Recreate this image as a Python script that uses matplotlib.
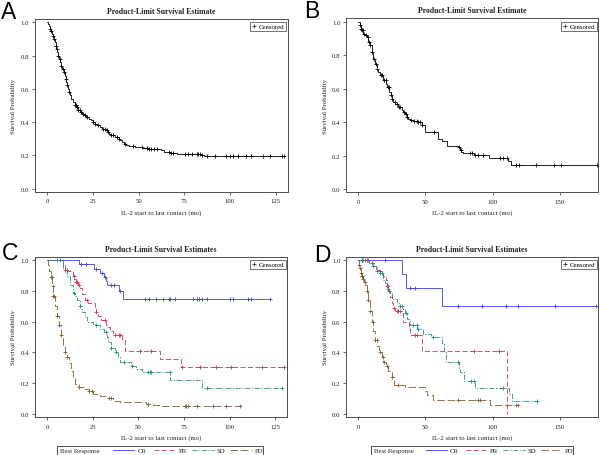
import numpy as np
import matplotlib
matplotlib.use("Agg")
import matplotlib.pyplot as plt
from matplotlib.lines import Line2D
from matplotlib.patches import Rectangle

plt.rcParams['font.family'] = ['Liberation Serif', 'DejaVu Serif']

# ---------------- data ----------------
# Panel A: all patients, cohort 1
a_times = [0.5, 1, 1.5, 2, 2.5, 3, 3.5, 4, 4.5, 5, 5.5, 6, 6.5, 7, 7.5, 8, 9, 9.5, 10, 10.5,
           11, 11.5, 12, 12.5, 13, 14, 15, 16, 17, 18, 19, 20, 21, 23, 24, 25, 26, 27, 29, 30,
           32, 33, 34, 35, 37, 39, 40, 41, 42, 43, 45, 48, 52, 55, 58, 62, 64, 67, 71, 76, 84, 86]
a_surv = [0.99, 0.98, 0.96, 0.95, 0.93, 0.92, 0.90, 0.88, 0.86, 0.84, 0.82, 0.80, 0.78, 0.76, 0.74,
          0.72, 0.70, 0.68, 0.66, 0.64, 0.62, 0.60, 0.58, 0.56, 0.54, 0.52, 0.50, 0.49, 0.47, 0.46,
          0.45, 0.44, 0.43, 0.42, 0.41, 0.40, 0.39, 0.38, 0.37, 0.36, 0.35, 0.34, 0.33, 0.32, 0.31,
          0.30, 0.29, 0.28, 0.27, 0.26, 0.255, 0.25, 0.245, 0.24, 0.235, 0.23, 0.22, 0.215, 0.21,
          0.205, 0.20, 0.193]
a_cens = [1.5, 2.2, 3, 3.8, 4.6, 5.3, 6, 6.8, 7.5, 8.5, 9.2, 10, 11, 12, 15, 15.6, 16.3, 17, 17.8,
          18.5, 19.5, 20.5, 22, 25, 26, 28, 30.5, 31.5, 32.5, 33.5, 35, 36, 38, 39.4, 42.5, 47,
          51.6, 54.4, 55.8, 57, 58.4, 60, 66.8, 67.5, 69, 75.4, 77.2, 79, 81.8, 82.7, 83.6, 84.5,
          87.6, 91.8, 97.8, 100, 101.5, 104.6, 109, 111.3, 118, 122, 128.3]
a_end = 129.6

# Panel B: all patients, cohort 2
b_times = [1, 2, 2.5, 3.5, 5, 6.2, 7.5, 8.7, 9.9, 11.2, 12.5, 13.6, 15, 16.1, 18.6, 20.5, 21.6, 23,
           24, 24.8, 26, 27.3, 29.7, 32.2, 33.5, 34.7, 35.9, 37, 38.4, 40.9, 44.6, 47.1, 49.6,
           59.5, 62.5, 65.7, 74, 75.5, 76.5, 78, 86, 97.4, 111.5, 114]
b_surv = [0.98, 0.96, 0.95, 0.93, 0.92, 0.91, 0.88, 0.86, 0.82, 0.78, 0.75, 0.72, 0.70, 0.68, 0.65,
          0.63, 0.61, 0.58, 0.56, 0.54, 0.52, 0.51, 0.49, 0.47, 0.46, 0.45, 0.43, 0.42, 0.414,
          0.408, 0.40, 0.38, 0.34, 0.30, 0.285, 0.257, 0.25, 0.235, 0.22, 0.213, 0.205, 0.185,
          0.17, 0.145]
b_cens = [1.2, 2, 2.5, 3.2, 4.2, 5.5, 7, 8, 8.7, 10.2, 11.7, 13.1, 14.1, 16.6, 17.6, 19.1, 20.3,
          21.8, 22.8, 24.1, 25.3, 27, 28.5, 30.5, 31.2, 34, 35.5, 36.4, 38.9, 41.4, 43.4, 44.6,
          45.9, 47.4, 56.3, 75.1, 76.4, 83.5, 84.5, 87.2, 89.5, 93, 105.4, 107.8, 110.8, 117.7,
          119.5, 132.6, 145.8, 151.2]
b_end = 177.5

# Panel C: by best response, cohort 1
c_cr_times = [17.5, 25.7, 28.8, 31, 32.1, 32.5, 39.4, 41.6]
c_cr_surv = [0.975, 0.945, 0.915, 0.89, 0.865, 0.838, 0.80, 0.75]
c_cr_cens = [7, 18.5, 21, 27, 30, 31.5, 35, 36.5, 40, 53.5, 56, 59.5, 63.5, 67, 67.5, 70, 80,
             82, 83.5, 85, 87.6, 100, 102, 110, 112]
c_cr_end = 122

c_pr_times = [8.5, 9.7, 11.5, 13.9, 14.8, 15.7, 17, 17.9, 18.8, 20.6, 22.4, 26, 27, 27.9, 29.7,
              32.1, 33.2, 34.3, 35.8, 41, 42.5, 61.7, 73.5]
c_pr_surv = [0.975, 0.94, 0.93, 0.90, 0.88, 0.86, 0.84, 0.82, 0.78, 0.74, 0.72, 0.68, 0.66, 0.635,
             0.61, 0.58, 0.565, 0.54, 0.515, 0.485, 0.41, 0.355, 0.305]
c_pr_cens = [9.7, 10.6, 14.6, 15.7, 16.4, 17.2, 21.9, 27, 31.6, 37, 39.4, 40, 51, 57, 74, 83.6,
             92.3, 101, 118]
c_pr_end = 129.6

c_sd_times = [8.8, 10.6, 12.4, 13.9, 15.1, 16.4, 17.9, 19.3, 20.6, 21.9, 25.2, 26.6, 28.8, 31,
              32.5, 33.4, 34.7, 37, 38.9, 40.1, 46.2, 48.9, 52.2, 67.5, 85]
c_sd_surv = [0.95, 0.90, 0.84, 0.79, 0.77, 0.74, 0.70, 0.66, 0.63, 0.60, 0.585, 0.575, 0.55, 0.53,
             0.50, 0.47, 0.43, 0.40, 0.37, 0.34, 0.31, 0.29, 0.27, 0.22, 0.165]
c_sd_cens = [5.5, 14.6, 17.9, 27, 32.1, 35.2, 37.5, 42, 46.7, 55.3, 56.2, 57, 67.2, 87.6]
c_sd_end = 128.8

c_pd_times = [0.6, 1.1, 1.8, 2.6, 3.3, 4.2, 5.1, 6.2, 7.3, 8.4, 9.7, 10.6, 11.9, 12.8, 13.9, 15.1,
              17.5, 20.6, 23, 25.2, 28.8, 32.5, 35.8, 39.8, 54.4, 58, 62.6]
c_pd_surv = [0.97, 0.93, 0.89, 0.83, 0.77, 0.70, 0.64, 0.58, 0.51, 0.45, 0.40, 0.37, 0.33, 0.28,
             0.23, 0.195, 0.175, 0.16, 0.15, 0.13, 0.115, 0.10, 0.085, 0.075, 0.065, 0.055, 0.047]
c_pd_cens = [1.8, 2.4, 2.9, 3.3, 3.8, 5.5, 6.6, 7.8, 9.7, 10.6, 17.5, 23, 24.3, 34, 34.7, 55.3,
             75.4, 76.3, 77.2, 82, 91, 97.8]
c_pd_end = 105.6

# Panel D: by best response, cohort 2
d_cr_times = [32.2, 35.4, 62]
d_cr_surv = [0.91, 0.82, 0.70]
d_cr_cens = [2.5, 19.8, 38.4, 42.1, 74.4, 92.5, 110.3, 119, 146.3]
d_cr_end = 177.2

d_pr_times = [9.9, 11.7, 13.1, 18.1, 20.6, 21.6, 22.4, 23.5, 24.8, 26, 27.3, 33, 33.5, 37.9,
              38.4, 47.1, 110.8]
d_pr_surv = [0.98, 0.96, 0.93, 0.90, 0.87, 0.83, 0.80, 0.76, 0.72, 0.69, 0.67, 0.64, 0.595, 0.56,
             0.51, 0.41, 0.0]
d_pr_cens = [5, 6.2, 7.4, 13.6, 16.1, 21.6, 22.3, 23, 26.5, 28.5, 29.7, 31, 42.1, 43.9, 86, 104.9]
d_pr_end = 110.8

d_sd_times = [8.2, 11.2, 14.1, 16.1, 18.1, 19.8, 21.6, 23, 24.8, 29, 30.5, 33, 34.7, 35.9, 38.4,
              43.9, 48.3, 54.5, 62.7, 63.7, 65.2, 75.1, 76.1, 78.6, 86.8, 112, 114.5]
d_sd_surv = [0.98, 0.96, 0.935, 0.92, 0.87, 0.85, 0.81, 0.79, 0.745, 0.72, 0.70, 0.68, 0.655,
             0.62, 0.58, 0.55, 0.52, 0.50, 0.46, 0.40, 0.335, 0.29, 0.27, 0.21, 0.17, 0.13, 0.085]
d_sd_cens = [2.5, 3.7, 9.9, 11.2, 16.1, 17.3, 22.3, 31, 32.2, 35.4, 40.9, 43.4, 44.6, 55.8, 74.4,
             84.3, 86, 107.8]
d_sd_end = 133.1

d_pd_times = [0.7, 1.2, 1.7, 2.5, 3.2, 4.2, 5.2, 6.2, 7.4, 8.7, 9.9, 11.2, 12.4, 14.1, 15.6,
              17.4, 18.6, 20.6, 22.3, 24.8, 26.5, 34.7, 49.6, 50.8, 55.8, 97.9]
d_pd_surv = [0.97, 0.95, 0.92, 0.90, 0.88, 0.86, 0.84, 0.80, 0.74, 0.67, 0.60, 0.54, 0.48, 0.44,
             0.40, 0.37, 0.34, 0.31, 0.28, 0.24, 0.19, 0.175, 0.15, 0.125, 0.09, 0.055]
d_pd_cens = [0.7, 1.2, 2, 2.5, 3, 3.7, 5, 6.2, 7.4, 8.7, 10.7, 12.4, 13.6, 16.1, 18.1, 19.1,
             21.6, 24.8, 29.7, 74.4, 89.2, 90.5, 117.3]
d_pd_end = 119.2

groups = ['CR', 'PR', 'SD', 'PD']
group_colors = ['#4040ea', '#d8304e', '#21907c', '#7d5e30']
group_dashes = [(None, None), (6, 3), (6, 2, 1.5, 2), (9, 3.5)]

x_ticks_1 = [0, 25, 50, 75, 100, 125]
x_ticks_2 = [0, 50, 100, 150]
y_ticks = [0.0, 0.2, 0.4, 0.6, 0.8, 1.0]

title_single = 'Product-Limit Survival Estimate'
title_multi = 'Product-Limit Survival Estimates'
x_label = 'IL-2 start to last contact (mo)'
y_label = 'Survival Probability'
legend_title = 'Best Response'

# ---------------- drawing ----------------
W, H = 600, 456
fig = plt.figure(figsize=(6, 4.56), dpi=100)
fig.patch.set_facecolor('white')

SPINE = '#4d4d4d'
TXT = '#222222'
FS = 4.9


def add_ax(l, r, t, b):
    return fig.add_axes([l / W, 1 - b / H, (r - l) / W, (b - t) / H])


def style(ax, xlim, ylim, xticks, title):
    ax.set_xlim(*xlim)
    ax.set_ylim(*ylim)
    ax.set_xticks(xticks)
    ax.set_yticks(y_ticks)
    ax.set_yticklabels(['%.1f' % v for v in y_ticks])
    ax.tick_params(direction='out', length=2.5, width=0.6, pad=1.5, labelsize=FS,
                   colors=SPINE, labelcolor=TXT)
    ax.tick_params(axis='x', pad=2.5)
    for s in ax.spines.values():
        s.set_color(SPINE)
        s.set_linewidth(0.7)
    ax.set_title(title, fontsize=5.6, fontweight='bold', color=TXT, pad=4)
    ax.set_xlabel(x_label, fontsize=FS, color=TXT, labelpad=4)
    ax.set_ylabel(y_label, fontsize=FS, color=TXT, labelpad=3)


def km(ax, times, surv, cens, end, color, dashes, lw=0.6):
    xs = [0] + list(times) + [end]
    ys = [1.0] + list(surv) + [surv[-1]]
    ln, = ax.step(xs, ys, where='post', color=color, lw=lw)
    if dashes[0] is not None:
        ln.set_dashes(dashes)
    t = np.asarray(times)
    s = np.asarray([1.0] + list(surv))
    ct = np.asarray(cens)
    idx = np.searchsorted(t, ct, side='right')
    ax.plot(ct, s[idx], ls='none', marker='+', ms=3.2, mew=0.6, color=color)


def censored_legend(ax, right_px, top_px):
    h = Line2D([], [], ls='none', marker='+', ms=3.2, mew=0.6, color='#333333')
    leg = ax.legend([h], ['Censored'], loc='upper right',
                    bbox_to_anchor=(right_px / W, 1 - top_px / H),
                    bbox_transform=fig.transFigure, fontsize=FS, frameon=True,
                    fancybox=False, borderpad=0.25, handlelength=0.6, handletextpad=0.4,
                    borderaxespad=0)
    leg.get_frame().set_edgecolor('#333333')
    leg.get_frame().set_linewidth(0.6)


yl1 = (-0.018, 1.023)
yl2 = (-0.0215, 1.0215)

# A
axA = add_ax(34.5, 287.5, 19.5, 192.5)
km(axA, a_times, a_surv, a_cens + [a_end], a_end, 'black', (None, None))
style(axA, (-7, 131.5), yl1, x_ticks_1, title_single)
censored_legend(axA, 286, 23)

# B
axB = add_ax(346, 597.5, 19, 193)
km(axB, b_times, b_surv, b_cens + [b_end], b_end, 'black', (None, None))
style(axB, (-9.2, 178.2), yl1, x_ticks_2, title_single)
censored_legend(axB, 596.5, 23)

# C
axC = add_ax(34.5, 287, 258, 418)
c_data = [(c_cr_times, c_cr_surv, c_cr_cens, c_cr_end),
          (c_pr_times, c_pr_surv, c_pr_cens, c_pr_end),
          (c_sd_times, c_sd_surv, c_sd_cens, c_sd_end),
          (c_pd_times, c_pd_surv, c_pd_cens, c_pd_end)]
for (tt, ss, cc, ee), col, dd in zip(c_data, group_colors, group_dashes):
    km(axC, tt, ss, cc + [ee], ee, col, dd)
style(axC, (-7, 131.5), yl2, x_ticks_1, title_multi)
censored_legend(axC, 286, 261)

# D
axD = add_ax(346, 597.5, 258, 418)
d_data = [(d_cr_times, d_cr_surv, d_cr_cens, d_cr_end),
          (d_pr_times, d_pr_surv, d_pr_cens, d_pr_end),
          (d_sd_times, d_sd_surv, d_sd_cens, d_sd_end),
          (d_pd_times, d_pd_surv, d_pd_cens, d_pd_end)]
for i, ((tt, ss, cc, ee), col, dd) in enumerate(zip(d_data, group_colors, group_dashes)):
    extra = [] if i == 1 else [ee]
    km(axD, tt, ss, cc + extra, ee, col, dd)
style(axD, (-9.2, 178.2), yl2, x_ticks_2, title_multi)
censored_legend(axD, 596.5, 261)


# bottom legends (figure pixel layout)
def bottom_legend(x0, x1, y0, y1):
    fig.add_artist(Rectangle((x0 / W, 1 - y1 / H), (x1 - x0) / W, (y1 - y0) / H,
                             transform=fig.transFigure, fill=False, ec='#333333', lw=0.6))
    yc = 1 - (y0 + y1) / 2 / H
    fig.text((x0 + 3) / W, yc, legend_title, fontsize=FS, color=TXT, va='center', ha='left')
    span = x1 - x0
    starts = [0.27, 0.47, 0.655, 0.84]
    for g, col, dd, s0 in zip(groups, group_colors, group_dashes, starts):
        xa = x0 + s0 * span
        xb = xa + 0.105 * span
        ln = Line2D([xa / W, xb / W], [yc, yc], transform=fig.transFigure, color=col, lw=0.6)
        if dd[0] is not None:
            ln.set_dashes(dd)
        fig.add_artist(ln)
        fig.text((xb + 3) / W, yc, g, fontsize=FS, color=TXT, va='center', ha='left')


bottom_legend(57, 263, 447, 455.5)
bottom_legend(371, 573, 447, 455.5)

# panel letters
for lab, x, y in [('A', 0.5, 12.5), ('B', 304.5, 12), ('C', 1.5, 253.5), ('D', 314.5, 255.5)]:
    fig.text(x / W, 1 - y / H, lab, fontsize=16.5, family=['Liberation Sans', 'DejaVu Sans'],
             va='center', ha='left', color='black')

fig.savefig('out.png', dpi=100, facecolor='white')
